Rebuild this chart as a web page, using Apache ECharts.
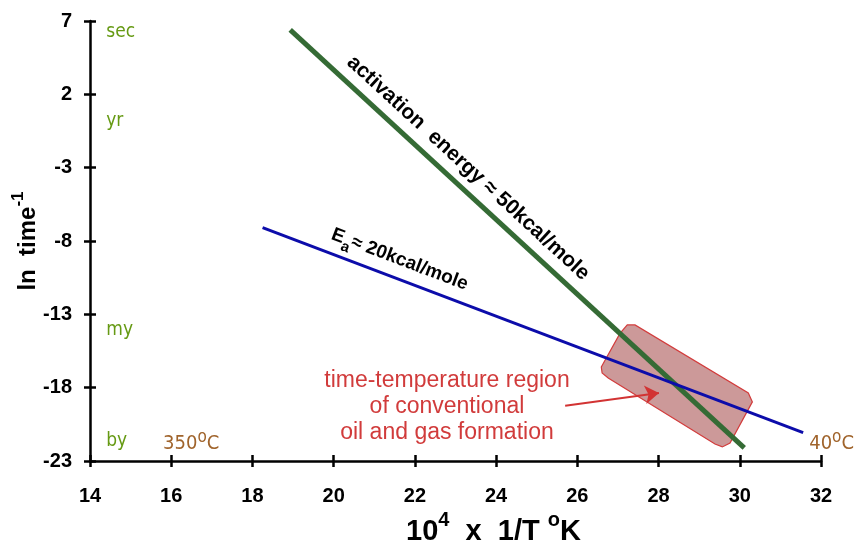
<!DOCTYPE html>
<html>
<head>
<meta charset="utf-8">
<script src="https://cdn.jsdelivr.net/npm/echarts@6/dist/echarts.min.js"></script>
<style>html,body{margin:0;padding:0;background:#fff}#main{width:859px;height:540px}</style>
</head>
<body>
<div id="main"></div>
<script>
const chartDom = document.getElementById('main');
const myChart = echarts.init(chartDom);

// axis ranges [min, max, step]
const xRange = [14, 32, 2];
const yRange = [-23, 7, 5];

// rate lines: [10^4/T, ln time^-1]
const line50kcal = [[18.93, 6.39], [30.11, -22.1]];
const line20kcal = [[18.25, -7.09], [31.56, -21.06]];

// outline of the oil & gas window (rounded box)
const regionOutline = [
    [26.59, -16.59], [27.05, -14.3], [27.23, -13.72], [27.42, -13.72],
    [30.21, -18.36], [30.31, -18.97], [29.76, -21.77], [29.57, -22.04],
    [29.39, -21.84], [26.76, -17.34], [26.61, -16.99]
];
const arrowPath = [[25.70, -19.24], [28.01, -18.36]];

// time scale words on the left
const timeWords = ['sec', 'yr', 'my', 'by'];
const timeWordPos = [[14.4, 6.25], [14.4, 0.2], [14.4, -14.05], [14.4, -21.65]];

// temperature labels
const tempLabels = ['350', '40'];
const tempLabelPos = [[15.8, -21.65], [31.71, -21.65]];

// text along the lines and the region caption
const label50Pos = [23.31, -3.02];
const label20Pos = [21.6, -9.45];
const regionTextPos = [22.79, -19.31];
const regionText = ['time-temperature region', 'of conventional', 'oil and gas formation'];

const font = "'Liberation Sans', Arial, sans-serif";
const smallFont = "'DejaVu Sans Condensed', 'DejaVu Sans', sans-serif";

const nameRich = {
    b: { fontSize: 29, fontWeight: 'bold', color: '#000', fontFamily: font, lineHeight: 36, verticalAlign: 'bottom' },
    s: { fontSize: 20, fontWeight: 'bold', color: '#000', fontFamily: font, lineHeight: 36, verticalAlign: 'top' }
};

function xAxisDef(inside, withLabels) {
    return {
        type: 'value', min: xRange[0], max: xRange[1], interval: xRange[2],
        position: 'bottom',
        splitLine: { show: false },
        axisLine: { show: withLabels, onZero: false, lineStyle: { color: '#000', width: 2.5 } },
        axisTick: { show: true, inside: inside, length: 6, lineStyle: { color: '#000', width: 2.5 } },
        axisLabel: { show: withLabels, margin: 25, color: '#000', fontSize: 20, fontWeight: 'bold', fontFamily: font },
        name: withLabels ? '{b|10}{s|4}{b|  x  1/T }{s|o}{b|K}' : '',
        nameLocation: 'middle',
        nameGap: 42,
        nameTextStyle: { fontFamily: font, padding: [0, 0, 0, 76], rich: nameRich }
    };
}

function yAxisDef(inside, withLabels) {
    return {
        type: 'value', min: yRange[0], max: yRange[1], interval: yRange[2],
        position: 'left',
        splitLine: { show: false },
        axisLine: { show: withLabels, onZero: false, lineStyle: { color: '#000', width: 2.5 } },
        axisTick: { show: true, inside: inside, length: 6, lineStyle: { color: '#000', width: 2.5 } },
        axisLabel: { show: withLabels, margin: 18, color: '#000', fontSize: 20, fontWeight: 'bold', fontFamily: font },
        name: withLabels ? '{b|ln  time}{s|-1}' : '',
        nameLocation: 'middle',
        nameGap: 50,
        nameMoveOverlap: false,
        nameRotate: 90,
        nameTextStyle: {
            fontFamily: font,
            rich: {
                b: { fontSize: 24, fontWeight: 'bold', color: '#000', fontFamily: font, lineHeight: 30, verticalAlign: 'bottom' },
                s: { fontSize: 17, fontWeight: 'bold', color: '#000', fontFamily: font, lineHeight: 30, verticalAlign: 'top' }
            }
        }
    };
}

const tempRich = {
    n: { fontSize: 20, color: '#a0642c', fontFamily: smallFont, lineHeight: 25, verticalAlign: 'bottom' },
    s: { fontSize: 17, color: '#a0642c', fontFamily: smallFont, lineHeight: 25, verticalAlign: 'top' }
};

const option = {
    animation: false,
    backgroundColor: '#fff',
    grid: { left: 90, right: 38, top: 21, bottom: 79, containLabel: false, outerBoundsMode: 'none' },
    xAxis: [xAxisDef(false, true), xAxisDef(true, false)],
    yAxis: [yAxisDef(false, true), yAxisDef(true, false)],
    series: [
        {
            type: 'custom',
            z: 1,
            renderItem: (params, api) => ({
                type: 'polygon',
                shape: { points: regionOutline.map(p => api.coord(p)) },
                style: { fill: '#cc9999', stroke: '#d23c3c', lineWidth: 1.2 }
            }),
            data: [regionOutline[0]]
        },
        {
            type: 'line', z: 3, data: line50kcal, showSymbol: false, silent: true,
            lineStyle: { color: '#356b35', width: 5 }
        },
        {
            type: 'line', z: 3, data: line20kcal, showSymbol: false, silent: true,
            lineStyle: { color: '#0c0caa', width: 3 }
        },
        {
            type: 'lines', coordinateSystem: 'cartesian2d', z: 4,
            symbol: ['none', 'arrow'], symbolSize: 14,
            lineStyle: { color: '#d23333', width: 2, opacity: 1 },
            data: [{ coords: arrowPath }]
        },
        {
            type: 'scatter', symbolSize: 0, z: 5, itemStyle: { opacity: 1 },
            data: timeWordPos.map((p, i) => ({ value: p, name: timeWords[i] })),
            label: {
                show: true, position: 'right', distance: 0, formatter: '{b}',
                color: '#669a14', fontSize: 19, fontFamily: smallFont
            }
        },
        {
            type: 'scatter', symbolSize: 0, z: 5, itemStyle: { opacity: 1 },
            data: tempLabelPos.map((p, i) => ({ value: p, name: tempLabels[i] })),
            label: {
                show: true, position: 'right', distance: 0,
                formatter: p => '{n|' + p.name + '}{s|o}{n|C}',
                rich: tempRich
            }
        },
        {
            type: 'scatter', symbolSize: 0, z: 5, itemStyle: { opacity: 1 },
            data: [{ value: label50Pos }],
            label: {
                show: true, position: 'inside', rotate: -42.6,
                formatter: 'activation  energy \u2248 50kcal/mole',
                color: '#000', fontSize: 21, fontWeight: 'bold', fontFamily: font
            }
        },
        {
            type: 'scatter', symbolSize: 0, z: 5, itemStyle: { opacity: 1 },
            data: [{ value: label20Pos }],
            label: {
                show: true, position: 'inside', rotate: -20.8,
                formatter: '{e|E}{a|a}{e|\u2248 20kcal/mole}',
                rich: {
                    e: { fontSize: 19, fontWeight: 'bold', color: '#000', fontFamily: font, lineHeight: 25, verticalAlign: 'top' },
                    a: { fontSize: 15, fontWeight: 'bold', color: '#000', fontFamily: font, lineHeight: 25, verticalAlign: 'bottom' }
                }
            }
        },
        {
            type: 'scatter', symbolSize: 0, z: 5, itemStyle: { opacity: 1 },
            data: [{ value: regionTextPos }],
            label: {
                show: true, position: 'inside', align: 'center',
                formatter: regionText.join('\n'),
                color: '#d13b3b', fontSize: 23, lineHeight: 26, fontFamily: font
            }
        }
    ]
};

myChart.setOption(option);
window.onresize = () => myChart.resize();
</script>
</body>
</html>
